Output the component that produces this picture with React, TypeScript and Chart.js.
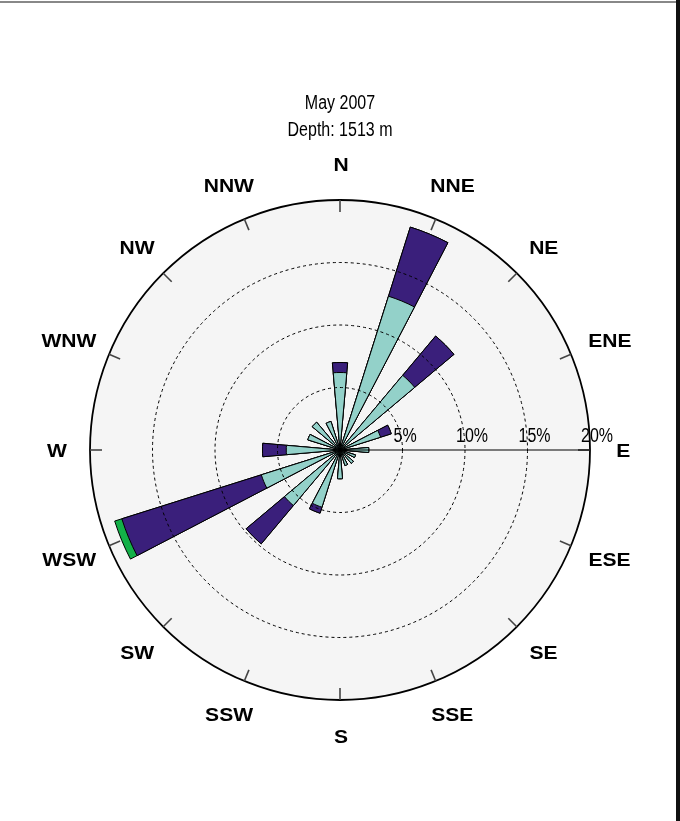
import React, { useEffect, useRef } from 'react';
import { Chart, registerables } from 'chart.js';

Chart.register(...registerables);

// ---- data ----
const directions = ['N', 'NNE', 'NE', 'ENE', 'E', 'ESE', 'SE', 'SSE', 'S', 'SSW', 'SW', 'WSW', 'W', 'WNW', 'NW', 'NNW'];
const bin1 = [6.2, 12.9, 7.8, 3.4, 2.3, 1.3, 1.4, 1.3, 2.3, 4.8, 5.8, 6.6, 4.3, 2.7, 2.9, 2.4];
const bin2 = [0.8, 5.8, 4.1, 0.9, 0, 0, 0, 0, 0, 0.5, 4.0, 11.7, 1.9, 0, 0, 0];
const bin3 = [0, 0, 0, 0, 0, 0, 0, 0, 0, 0, 0, 0.6, 0, 0, 0, 0];
const ringValues = [5, 10, 15, 20];
const ringLabels = ['5%', '10%', '15%', '20%'];
const titleLines = ['May 2007', 'Depth: 1513 m'];
const rMax = 20;
const barAngle = 10;

const colors = ['#93d1c9', '#3a1f7b', '#13b048'];

const cum1 = bin1.slice();
const cum2 = bin1.map((v, i) => v + bin2[i]);
const cum3 = cum2.map((v, i) => v + bin3[i]);

const interleave = (arr: number[]) => arr.flatMap((v) => [v, 0]);
const labels = directions.flatMap((d) => [d, '']);

function scaledText(ctx: CanvasRenderingContext2D, text: string, x: number, y: number, align: CanvasTextAlign, sx: number) {
  ctx.save();
  ctx.translate(x, y);
  ctx.scale(sx, 1);
  ctx.textAlign = align;
  ctx.fillText(text, 0, 0);
  ctx.restore();
}

const rosePlugin = {
  id: 'rose',
  beforeDatasetsDraw(chart: any) {
    const s = chart.scales.r;
    const ctx = chart.ctx as CanvasRenderingContext2D;
    ctx.save();
    ctx.beginPath();
    ctx.arc(s.xCenter, s.yCenter, s.getDistanceFromCenterForValue(rMax), 0, Math.PI * 2);
    ctx.fillStyle = '#f5f5f5';
    ctx.fill();
    ctx.restore();
  },
  afterDatasetsDraw(chart: any) {
    const s = chart.scales.r;
    const ctx = chart.ctx as CanvasRenderingContext2D;
    const xc = s.xCenter;
    const yc = s.yCenter;
    const R = s.getDistanceFromCenterForValue(rMax);
    ctx.save();
    // rings
    ringValues.forEach((v) => {
      const r = s.getDistanceFromCenterForValue(v);
      ctx.beginPath();
      ctx.arc(xc, yc, r, 0, Math.PI * 2);
      if (v === rMax) {
        ctx.setLineDash([]);
        ctx.lineWidth = 1.8;
      } else {
        ctx.setLineDash([3, 3]);
        ctx.lineWidth = 1;
      }
      ctx.strokeStyle = '#000';
      ctx.stroke();
    });
    ctx.setLineDash([]);
    // direction ticks
    ctx.strokeStyle = '#444';
    ctx.lineWidth = 1.6;
    directions.forEach((_, i) => {
      const a = (i * 22.5 * Math.PI) / 180;
      ctx.beginPath();
      ctx.moveTo(xc + R * Math.sin(a), yc - R * Math.cos(a));
      ctx.lineTo(xc + (R - 12) * Math.sin(a), yc - (R - 12) * Math.cos(a));
      ctx.stroke();
    });
    // radial axis line
    ctx.strokeStyle = '#000';
    ctx.lineWidth = 1.2;
    ctx.beginPath();
    ctx.moveTo(xc, yc);
    ctx.lineTo(xc + R, yc);
    ctx.stroke();
    // ring labels
    ctx.fillStyle = '#000';
    ctx.font = '20px "Liberation Sans", Arial, sans-serif';
    ctx.textBaseline = 'alphabetic';
    ringValues.forEach((v, i) => {
      const r = s.getDistanceFromCenterForValue(v);
      scaledText(ctx, ringLabels[i], xc + r - 9, yc - 8, 'left', 0.8);
    });
    ctx.restore();
  },
  afterDraw(chart: any) {
    const s = chart.scales.r;
    const ctx = chart.ctx as CanvasRenderingContext2D;
    const xc = s.xCenter;
    const yc = s.yCenter;
    const R = s.getDistanceFromCenterForValue(rMax);
    ctx.save();
    ctx.fillStyle = '#000';
    ctx.textBaseline = 'alphabetic';
    ctx.font = '20px "Liberation Sans", Arial, sans-serif';
    titleLines.forEach((t, i) => {
      scaledText(ctx, t, xc, yc - 341 + i * 27, 'center', 0.8);
    });
    ctx.font = 'bold 18px "Liberation Sans", Arial, sans-serif';
    const sx = 1.17;
    const capH = 13;
    directions.forEach((d, i) => {
      const a = (i * 22.5 * Math.PI) / 180;
      const w = ctx.measureText(d).width * sx;
      const cx = xc + 1 + (R + 28 + 0.3 * w) * Math.sin(a);
      const cy = yc - (R + 36) * Math.cos(a);
      scaledText(ctx, d, cx, cy + capH / 2, 'center', sx);
    });
    ctx.restore();
  },
};

export default function App() {
  const ref = useRef<HTMLCanvasElement | null>(null);
  useEffect(() => {
    if (!ref.current) return;
    const mk = (data: number[], color: string) => ({
      data: interleave(data),
      backgroundColor: (c: any) => (c.dataIndex % 2 === 0 ? color : 'rgba(0,0,0,0)'),
      borderColor: '#000',
      borderWidth: (c: any) => (c.dataIndex % 2 === 0 ? 1 : 0),
      angle: (c: any) => (c.dataIndex % 2 === 0 ? barAngle : 22.5 - barAngle),
    });
    const chart = new Chart(ref.current, {
      type: 'polarArea',
      data: {
        labels,
        datasets: [mk(cum1, colors[0]), mk(cum2, colors[1]), mk(cum3, colors[2])] as any,
      },
      options: {
        responsive: false,
        animation: false,
        devicePixelRatio: 1,
        layout: { padding: { left: 90, top: 200, right: 90, bottom: 121 } },
        plugins: { legend: { display: false }, tooltip: { enabled: false }, title: { display: false } },
        scales: {
          r: {
            min: 0,
            max: rMax,
            startAngle: -barAngle / 2,
            ticks: { display: false, stepSize: 5 },
            grid: { display: false },
            angleLines: { display: false },
            pointLabels: { display: false },
          },
        },
      } as any,
      plugins: [rosePlugin],
    });
    return () => chart.destroy();
  }, []);
  return (
    <div style={{ position: 'absolute', left: 0, top: 0, width: 680, height: 821, background: '#fff' }}>
      <canvas ref={ref} width={680} height={821} style={{ position: 'absolute', left: 0, top: 0 }} />
      <div style={{ position: 'absolute', left: 0, top: 1, width: 676, height: 2, background: '#888' }} />
      <div style={{ position: 'absolute', left: 676, top: 0, width: 4, height: 821, background: '#111' }} />
    </div>
  );
}
